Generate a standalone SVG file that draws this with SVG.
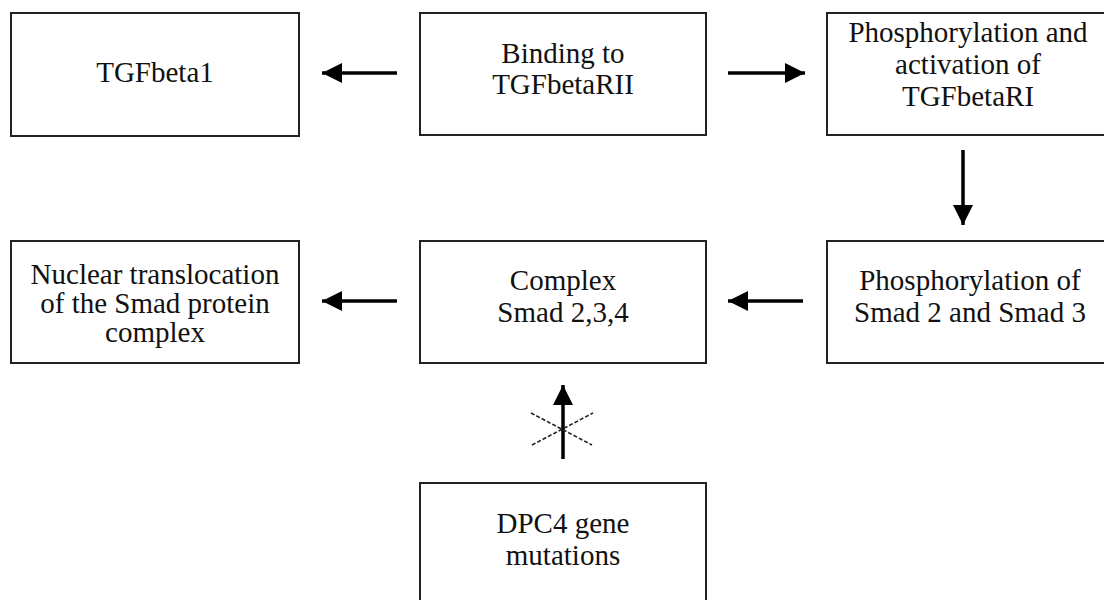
<svg xmlns="http://www.w3.org/2000/svg" width="1104" height="600" viewBox="0 0 1104 600">
<style>
.box{fill:#fff;stroke:#222;stroke-width:2}
.t{font-family:"Liberation Serif","Times New Roman",serif;font-size:29px;fill:#111;text-anchor:middle}
.ar{stroke:#000;stroke-width:3.5;fill:none;marker-end:url(#ah)}
.x{stroke:#222;stroke-width:1.6;stroke-dasharray:4 2;fill:none}
</style>
<defs>
<marker id="ah" markerUnits="userSpaceOnUse" markerWidth="22" markerHeight="22" refX="20" refY="10" orient="auto">
<path d="M0,0 L20,10 L0,20 Z" fill="#000"/>
</marker>
</defs>
<rect width="1104" height="600" fill="#fff"/>
<g id="connectors">
<line class="ar" x1="397" y1="73" x2="322" y2="73"/>
<line class="ar" x1="728" y1="73" x2="805" y2="73"/>
<line class="ar" x1="963" y1="150" x2="963" y2="225"/>
<line class="ar" x1="803" y1="301" x2="728" y2="301"/>
<line class="ar" x1="397" y1="301" x2="322" y2="301"/>
<line class="ar" x1="563" y1="459" x2="563" y2="385"/>
<line class="x" x1="531" y1="413" x2="592" y2="445"/>
<line class="x" x1="532" y1="445" x2="593" y2="413"/>
</g>
<g id="tgfbeta1">
<rect class="box" x="11" y="13" width="288" height="123"/>
<text class="t" x="155" y="82">TGFbeta1</text>
</g>
<g id="binding">
<rect class="box" x="420" y="13" width="286" height="122"/>
<text class="t" x="563" y="63">Binding to</text>
<text class="t" x="563" y="94">TGFbetaRII</text>
</g>
<g id="phos-activation">
<rect class="box" x="827" y="13" width="290" height="122"/>
<text class="t" x="968" y="42">Phosphorylation and</text>
<text class="t" x="968" y="74">activation of</text>
<text class="t" x="968" y="106">TGFbetaRI</text>
</g>
<g id="nuclear">
<rect class="box" x="11" y="241" width="288" height="122"/>
<text class="t" x="155" y="284">Nuclear translocation</text>
<text class="t" x="155" y="313">of the Smad protein</text>
<text class="t" x="155" y="342">complex</text>
</g>
<g id="complex">
<rect class="box" x="420" y="241" width="286" height="122"/>
<text class="t" x="563" y="290">Complex</text>
<text class="t" x="563" y="322">Smad 2,3,4</text>
</g>
<g id="phos-smad">
<rect class="box" x="827" y="241" width="290" height="122"/>
<text class="t" x="970" y="290">Phosphorylation of</text>
<text class="t" x="970" y="322">Smad 2 and Smad 3</text>
</g>
<g id="dpc4">
<rect class="box" x="420" y="483" width="286" height="130"/>
<text class="t" x="563" y="533">DPC4 gene</text>
<text class="t" x="563" y="565">mutations</text>
</g>
</svg>
